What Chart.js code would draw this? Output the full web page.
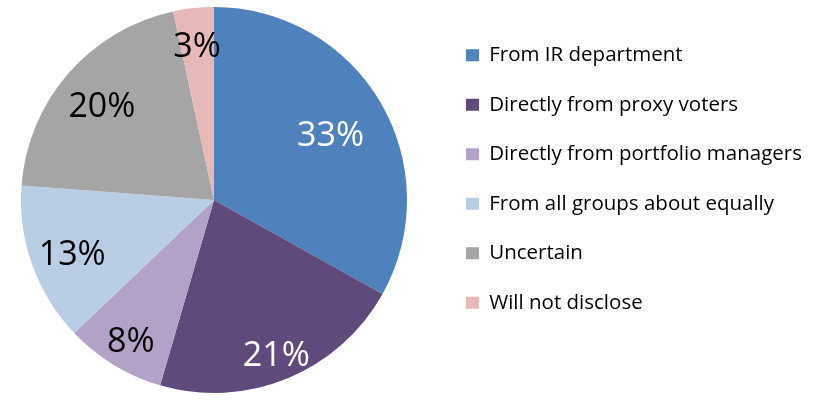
<!DOCTYPE html>
<html>
<head>
<meta charset="utf-8">
<script src="https://cdn.jsdelivr.net/npm/chart.js@4/dist/chart.umd.min.js"></script>
<style>
  html, body { margin: 0; padding: 0; background: #fff; }
  #wrap { width: 824px; height: 401px; }
</style>
</head>
<body>
<div id="wrap"><canvas id="pie"></canvas></div>
<script>
// categories and values
const categories = [
  "From IR department",
  "Directly from proxy voters",
  "Directly from portfolio managers",
  "From all groups about equally",
  "Uncertain",
  "Will not disclose",
];
const shares = [33.1, 21.4, 8.4, 13.3, 20.4, 3.4];
const shareLabels = ["33%", "21%", "8%", "13%", "20%", "3%"];

const COLORS = ["#4F81BD", "#604A7B", "#B3A2C7", "#B9CDE5", "#A5A5A5", "#E6B9B8"];
const LABEL_COLORS = ["#ffffff", "#ffffff", "#000000", "#000000", "#000000", "#000000"];
// how far out (fraction of radius) each percentage sits
const LABEL_RADIUS = [0.70, 0.85, 0.83, 0.78, 0.77, 0.82];
const FONT = "'Open Sans', sans-serif";

// draws the percentage text inside each slice
const sliceLabels = {
  id: "sliceLabels",
  afterDatasetsDraw(chart) {
    const ctx = chart.ctx;
    const arcs = chart.getDatasetMeta(0).data;
    ctx.save();
    ctx.font = "34px " + FONT;
    ctx.textAlign = "center";
    ctx.textBaseline = "middle";
    arcs.forEach((arc, i) => {
      const mid = (arc.startAngle + arc.endAngle) / 2;
      const r = arc.outerRadius * LABEL_RADIUS[i];
      ctx.fillStyle = LABEL_COLORS[i];
      // +5 so the digits sit visually centred like the original
      ctx.fillText(shareLabels[i], arc.x + Math.cos(mid) * r, arc.y + Math.sin(mid) * r + 5);
    });
    ctx.restore();
  },
};

// keep the pie on the left half and put the legend where the reference has it
const legendPlace = {
  id: "legendPlace",
  beforeUpdate(chart) {
    const lg = chart.legend;
    if (lg && !lg._patched) {
      const fit = lg.fit.bind(lg);
      lg.fit = function () { fit(); this.width = 396; };
      lg._patched = true;
    }
  },
  afterLayout(chart) {
    const lg = chart.legend;
    const w = lg.width, h = lg.height;
    lg.left = 437; lg.right = 437 + w;
    lg.top = 16; lg.bottom = 16 + h;
  },
};

new Chart(document.getElementById("pie"), {
  type: "pie",
  data: {
    labels: categories,
    datasets: [{
      data: shares,
      backgroundColor: COLORS,
      borderWidth: 0,
    }],
  },
  options: {
    responsive: true,
    maintainAspectRatio: false,
    animation: false,
    layout: { padding: { top: 7, bottom: 8 } },
    plugins: {
      legend: {
        position: "right",
        align: "start",
        labels: {
          color: "#000",
          font: { family: FONT, size: 20.5 },
          boxWidth: 13,
          boxHeight: 12,
          padding: 29,
        },
      },
      tooltip: { enabled: false },
    },
  },
  plugins: [sliceLabels, legendPlace],
});
</script>
</body>
</html>
